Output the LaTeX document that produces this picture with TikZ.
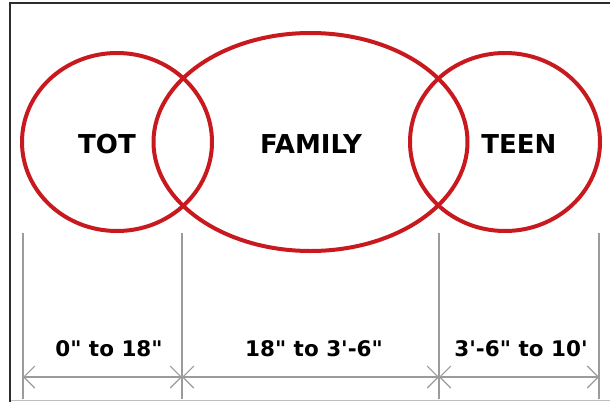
\documentclass[tikz,border=0pt]{standalone}
\usepackage{fontspec}
\usetikzlibrary{arrows.meta}
\newfontfamily\zonefont[Ligatures=TeXOff]{DejaVu Sans}
\definecolor{ringred}{RGB}{200,26,30}
\definecolor{dimgray}{RGB}{155,155,155}
\definecolor{framegray}{RGB}{45,45,45}
\definecolor{edgegray}{RGB}{190,190,190}

\begin{document}
\begin{tikzpicture}[
            x=1pt, y=-1pt,
            >={Straight Barb[length=11pt,width=22pt]},
            ring/.style={draw=ringred, line width=4pt},
            zone/.style={font=\zonefont\bfseries\fontsize{26}{30}\selectfont, inner sep=0pt},
            span/.style={font=\zonefont\bfseries\fontsize{21.5}{26}\selectfont, inner sep=0pt},
            ext/.style={draw=dimgray, line width=1.1pt},
            dim/.style={draw=dimgray, line width=1.1pt, <->}
        ]
\useasboundingbox (0,0) rectangle (610,402);

% --- frame ---
            \coordinate (fbl) at (10,402);
            \coordinate (ftl) at (10,3);
            \coordinate (ftr) at (610,3);
            \coordinate (bl) at (10,400.5);
            \coordinate (br) at (610,400.5);
            \draw[edgegray, line width=1pt] (bl) -- (br);
            \draw[framegray, line width=2.5pt] (fbl) -- (ftl) -- (ftr);

% --- rings ---
            \coordinate (totc) at (117,142);
            \coordinate (famc) at (310.5,142);
            \coordinate (teenc) at (505,142);
            \draw[ring] (totc) ellipse [x radius=95, y radius=89];
            \draw[ring] (famc) ellipse [x radius=157, y radius=109];
            \draw[ring] (teenc) ellipse [x radius=95, y radius=89];

% --- ring labels ---
            \node[zone] (tot) at (107,144) {TOT};
            \node[zone] (family) at (311,144) {FAMILY};
            \node[zone] (teen) at (519,144) {TEEN};

% --- extension lines ---
            \coordinate (a) at (23,233);
            \coordinate (b) at (182,233);
            \coordinate (c) at (439,233);
            \coordinate (d) at (599,233);
            \coordinate (a') at (23,399);
            \coordinate (b') at (182,399);
            \coordinate (c') at (439,399);
            \coordinate (d') at (599,399);
            \draw[ext] (a)--(a');
            \draw[ext] (b)--(b');
            \draw[ext] (c)--(c');
            \draw[ext] (d)--(d');

% --- dimension line ---
            \coordinate (pa) at (23,377);
            \coordinate (pb) at (182,377);
            \coordinate (pc) at (439,377);
            \coordinate (pd) at (599,377);
            \draw[dim] (pa)--(pb);
            \draw[dim] (pb)--(pc);
            \draw[dim] (pc)--(pd);

% --- span labels ---
            \node[span] (tots) at (109,349) {0" to 18"};
            \node[span] (fams) at (314,349) {18" to 3'-6"};
            \node[span] (teens) at (521,349) {3'-6" to 10'};

        \end{tikzpicture}
\end{document}
